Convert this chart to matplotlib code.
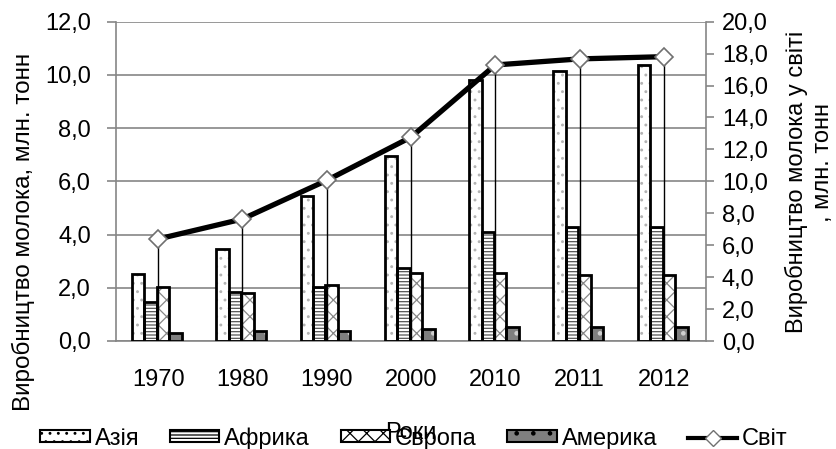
import matplotlib
matplotlib.use("Agg")
import matplotlib.pyplot as plt
import numpy as np
from matplotlib.patches import Patch
from matplotlib.lines import Line2D
from matplotlib.ticker import FuncFormatter, MultipleLocator

plt.rcParams['font.family'] = ['Liberation Sans', 'DejaVu Sans']
plt.rcParams['hatch.linewidth'] = 0.9

years = ['1970', '1980', '1990', '2000', '2010', '2011', '2012']
asia = [2.51, 3.46, 5.44, 6.94, 9.82, 10.14, 10.37]
africa = [1.46, 1.84, 2.04, 2.76, 4.09, 4.27, 4.27]
europe = [2.04, 1.79, 2.11, 2.54, 2.54, 2.49, 2.49]
america = [0.29, 0.39, 0.39, 0.44, 0.54, 0.54, 0.54]
world = [6.39, 7.64, 10.06, 12.77, 17.29, 17.67, 17.81]

series = [('Азія', asia, 'white', '#b4b4b4', '..'),
          ('Африка', africa, 'white', '#555555', '-----'),
          ('Європа', europe, 'white', '#888888', 'xx'),
          ('Америка', america, '#7f7f7f', '#d0d0d0', '.')]

W, H = 837, 449
fig = plt.figure(figsize=(W / 100, H / 100), dpi=100)
ax = fig.add_axes([116 / W, 1 - 341 / H, (706 - 116) / W, (341 - 21.7) / H])
ax2 = ax.twinx()

x = np.arange(len(years))
bw = 0.148
offsets = (np.arange(4) - 1.5) * bw - 0.015
fs = 17
grey = '#868686'

for (name, vals, fc, hc, h), off in zip(series, offsets):
    ax.bar(x + off, vals, bw, color=fc, edgecolor=hc, hatch=h, linewidth=0, zorder=2)
    ax.bar(x + off, vals, bw, fill=False, edgecolor='black', linewidth=2.0, zorder=3)

ax.set_xlim(-0.5, len(years) - 0.5)
ax.set_ylim(0, 12)
ax.yaxis.set_major_locator(MultipleLocator(2))
ax.set_axisbelow(True)
ax.grid(axis='y', color=grey, linewidth=1.2, zorder=0)
fmt = FuncFormatter(lambda v, p: f"{v:.1f}".replace('.', ','))
ax.yaxis.set_major_formatter(fmt)
ax.set_xticks(x)
ax.set_xticklabels(years, fontsize=fs)
ax.tick_params(axis='x', length=0, pad=20.5)
ax.tick_params(axis='y', direction='out', length=6.5, color=grey, width=1.2, labelsize=fs, pad=11.5)
for s in ['top', 'right']:
    ax.spines[s].set_visible(False)
for s in ['left', 'bottom']:
    ax.spines[s].set_color(grey)
    ax.spines[s].set_linewidth(1.2)

ax2.set_ylim(0, 20)
ax2.yaxis.set_major_locator(MultipleLocator(2))
ax2.yaxis.set_major_formatter(fmt)
ax2.tick_params(axis='y', direction='out', length=6, color=grey, width=1.2, labelsize=fs, pad=5.5)
for s in ['top', 'left', 'bottom']:
    ax2.spines[s].set_visible(False)
ax2.spines['right'].set_color(grey)
ax2.spines['right'].set_linewidth(1.2)
ax2.vlines(x, 0, world, color='black', linewidth=1.0, zorder=4)
ax2.plot(x, world, color='black', linewidth=3.8, zorder=5)
ax2.plot(x, world, linestyle='none', marker='D', markersize=9, markerfacecolor='white',
         markeredgecolor='#707070', markeredgewidth=1.2, zorder=6)

# axis titles
fig.text(23 / W, 1 - 232 / H, 'Виробництво молока, млн. тонн', rotation=90,
         ha='center', va='center', fontsize=17.5)
fig.text(796 / W, 1 - 181.5 / H, 'Виробництво молока у світі', rotation=90,
         ha='center', va='center', fontsize=fs)
fig.text(823 / W, 1 - 163 / H, ', млн. тонн', rotation=90,
         ha='center', va='center', fontsize=fs)
fig.text(411 / W, 1 - 439 / H, 'Роки', ha='center', va='baseline', fontsize=fs)

handles = [Patch(facecolor=fc, edgecolor='black', hatch=h, linewidth=1.5) for (_, _, fc, hc, h) in series]
handles.append(Line2D([0], [0], color='black', linewidth=3, marker='D', markersize=8,
                      markerfacecolor='white', markeredgecolor='#707070'))
labels = [s[0] for s in series] + ['Світ']
fig.legend(handles, labels, loc='center', bbox_to_anchor=(414 / W, 1 - 438.5 / H), ncol=5,
           frameon=False, fontsize=fs, handlelength=2.1, handleheight=0.4,
           handletextpad=0.2, columnspacing=1.3, borderaxespad=0, borderpad=0)

fig.savefig('out.png', dpi=100)
